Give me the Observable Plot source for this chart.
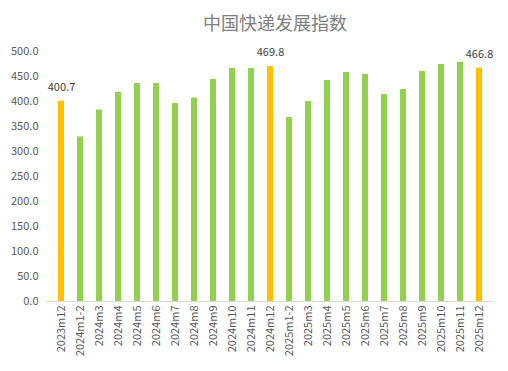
<!DOCTYPE html>
<html><head><meta charset="utf-8">
<script src="https://cdn.jsdelivr.net/npm/d3@7"></script>
<script src="https://cdn.jsdelivr.net/npm/@observablehq/plot@0.6"></script>
<style>
body{margin:0;background:#fff;width:508px;height:371px;overflow:hidden;font-family:"Noto Sans CJK SC","Noto Sans",sans-serif;}
#title{height:40px;line-height:44px;font-size:18px;color:#808080;text-align:center;padding-left:42px;box-sizing:border-box;}
</style></head>
<body>
<div id="title">中国快递发展指数</div>
<div id="chart"></div>
<script>
const periods = ["2023m12","2024m1-2","2024m3","2024m4","2024m5","2024m6","2024m7","2024m8","2024m9","2024m10","2024m11","2024m12",
  "2025m1-2","2025m3","2025m4","2025m5","2025m6","2025m7","2025m8","2025m9","2025m10","2025m11","2025m12"];
const values = [400.7,329,383,418,436,436,396,407,444,466,466,469.8,
  368,400,442,458,454,414,424,460,474,478,466.8];
const highlighted = ["2023m12","2024m12","2025m12"];
const yTicks = [0,50,100,150,200,250,300,350,400,450,500];

const data = periods.map((p,i)=>({period:p, value:values[i], hi: highlighted.includes(p)}));

const chart = Plot.plot({
  width: 508,
  height: 331,
  marginTop: 11,
  marginBottom: 70,
  marginLeft: 46,
  marginRight: 14,
  style: {fontFamily: '"Noto Sans CJK SC","Noto Sans",sans-serif', fontSize: "11px", color: "#595959", background: "#fff"},
  x: {domain: periods, paddingInner: 0.68, paddingOuter: 0.34, label: null, tickRotate: -90, tickSize: 0, tickPadding: 4},
  y: {domain: [0,500], ticks: yTicks, tickFormat: d => d.toFixed(1), label: null, tickSize: 0, tickPadding: 8},
  marks: [
    Plot.barY(data, {x: "period", y: "value", fill: d => d.hi ? "#FFC000" : "#92D050"}),
    Plot.ruleY([0], {stroke: "#d9d9d9"}),
    Plot.text(data.filter(d=>d.hi), {x: "period", y: "value", text: d => d.value.toFixed(1), dy: -14, fill: "#404040", fontSize: 11})
  ]
});
document.getElementById("chart").appendChild(chart);
</script>
</body></html>
